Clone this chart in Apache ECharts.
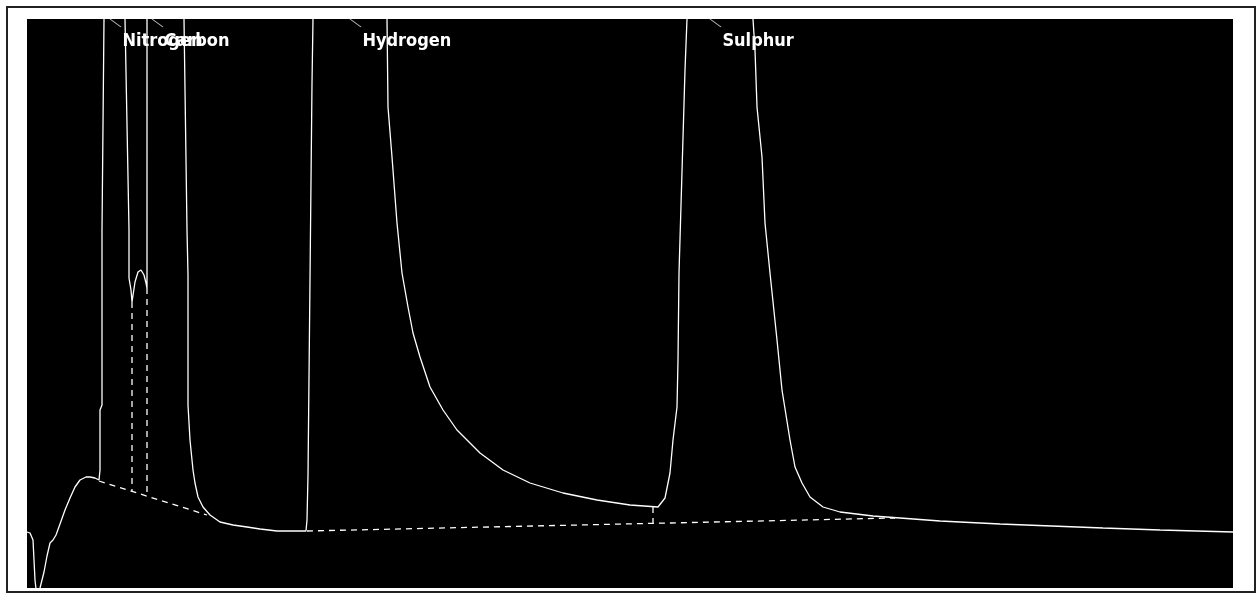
<!DOCTYPE html>
<html>
<head>
<meta charset="utf-8">
<script src="https://cdn.jsdelivr.net/npm/echarts@6/dist/echarts.min.js"></script>
<style>
  html, body { margin: 0; padding: 0; background: #fff; }
  #chart { width: 1257px; height: 594px; }
</style>
</head>
<body>
<div id="chart"></div>
<script>
// detector trace (time in min, response in mV)
const traceTime = [
  0.00, 0.03, 0.06, 0.08, 0.10, 0.13, 0.17, 0.20, 0.23, 0.26, 0.29, 0.33, 0.38, 0.43, 0.48, 0.53,
  0.59, 0.63, 0.68, 0.72, 0.73, 0.73, 0.75, 0.75, 0.77, 0.875, 0.98, 1.02, 1.02, 1.04, 1.05,
  1.08, 1.11, 1.14, 1.17, 1.19, 1.20, 1.20, 1.20, 1.385, 1.57, 1.60, 1.61, 1.61, 1.63, 1.66,
  1.68, 1.71, 1.76, 1.83, 1.93, 2.06, 2.20, 2.33, 2.50, 2.79, 2.80, 2.81, 2.85, 2.86, 3.23,
  3.60, 3.61, 3.65, 3.70, 3.75, 3.81, 3.86, 3.93, 4.03, 4.16, 4.30, 4.53, 4.76, 5.03, 5.36,
  5.70, 6.03, 6.31, 6.38, 6.43, 6.46, 6.50, 6.51, 6.52, 6.58, 6.60, 6.93, 7.26, 7.28, 7.30,
  7.35, 7.38, 7.43, 7.50, 7.55, 7.63, 7.68, 7.75, 7.83, 7.96, 8.13, 8.46, 8.73, 9.13, 9.73,
  10.76, 11.33, 12.06
]
const traceSignal = [
  5.6, 5.5, 4.8, 0.8, -1.0, 0.0, 1.6, 3.2, 4.5, 4.8, 5.3, 6.4, 7.8, 9.0, 10.1, 10.8,
  11.1, 11.1, 11.0, 10.8, 11.8, 17.8, 18.3, 35.8, 56.9, 90, 56.9, 35.8, 31.0, 29.8, 28.6,
  30.6, 31.6, 31.8, 31.3, 30.5, 30.0, 35.8, 56.9, 90, 56.9, 35.8, 31.3, 18.3, 14.8, 11.8,
  10.5, 9.1, 8.1, 7.3, 6.6, 6.3, 6.1, 5.9, 5.7, 5.7, 6.8, 11.3, 50.5, 56.9, 90,
  56.9, 48.1, 43.1, 36.5, 31.5, 28.1, 25.5, 23.1, 20.1, 17.8, 15.8, 13.5, 11.8, 10.5, 9.5,
  8.8, 8.3, 8.1, 9.0, 11.5, 14.8, 18.1, 22.8, 31.5, 51.8, 56.9, 90, 56.9, 53.8, 48.1,
  43.1, 36.5, 31.5, 24.8, 19.8, 14.8, 12.1, 10.5, 9.1, 8.1, 7.6, 7.2, 7.0, 6.7, 6.4,
  6.0, 5.8, 5.6
]

// integration baselines and drop lines: [t0, y0, t1, y1]
const baselines = [
  [0.72, 10.7, 1.80, 7.3],
  [1.05, 28.6, 1.05, 9.7],
  [1.20, 30.0, 1.20, 9.2],
  [2.80, 5.7, 8.68, 7.0],
  [6.26, 8.1, 6.26, 6.5]
]

// peak labels
const peakNames = ['Nitrogen', 'Carbon', 'Hydrogen', 'Sulphur']
const peakTimes = [0.83, 1.25, 3.23, 6.83]

const yMax = 56.9

const chart = echarts.init(document.getElementById('chart'))

const series = [{
  type: 'line',
  data: traceTime.map((t, i) => [t, traceSignal[i]]),
  symbol: 'none',
  clip: true,
  lineStyle: { color: '#fff', width: 1.3 },
  silent: true,
}]

// dashed baselines
baselines.forEach(b => {
  series.push({
    type: 'line',
    data: [[b[0], b[1]], [b[2], b[3]]],
    symbol: 'none',
    clip: true,
    lineStyle: { color: '#fff', width: 1.3, type: [6, 5] },
    silent: true,
  })
})

// labels with small leader ticks
series.push({
  type: 'scatter',
  clip: false,
  silent: true,
  data: peakTimes.map((t, i) => ({ value: [t, yMax], name: peakNames[i] })),
  symbol: 'path://M0,0L11,8',
  symbolSize: [11, 8],
  symbolOffset: [5.5, 4],
  itemStyle: { color: 'rgba(0,0,0,0)', borderColor: '#bbb', borderWidth: 1, opacity: 1 },
  label: {
    show: true,
    formatter: '{b}',
    position: [13, 14],
    color: '#fff',
    fontFamily: '"DejaVu Sans Condensed", "Liberation Sans", sans-serif',
    fontWeight: 'bold',
    fontSize: 18,
  },
})

chart.setOption({
  animation: false,
  backgroundColor: '#fff',
  grid: {
    left: 27, top: 19, width: 1206, height: 569,
    show: true, backgroundColor: '#000', borderWidth: 0,
  },
  xAxis: { type: 'value', min: 0, max: 12.06, show: false },
  yAxis: { type: 'value', min: 0, max: yMax, show: false },
  graphic: [{
    type: 'rect',
    shape: { x: 7, y: 7, width: 1248, height: 585 },
    style: { fill: 'none', stroke: '#222', lineWidth: 2 },
    silent: true,
  }],
  series,
})
</script>
</body>
</html>
